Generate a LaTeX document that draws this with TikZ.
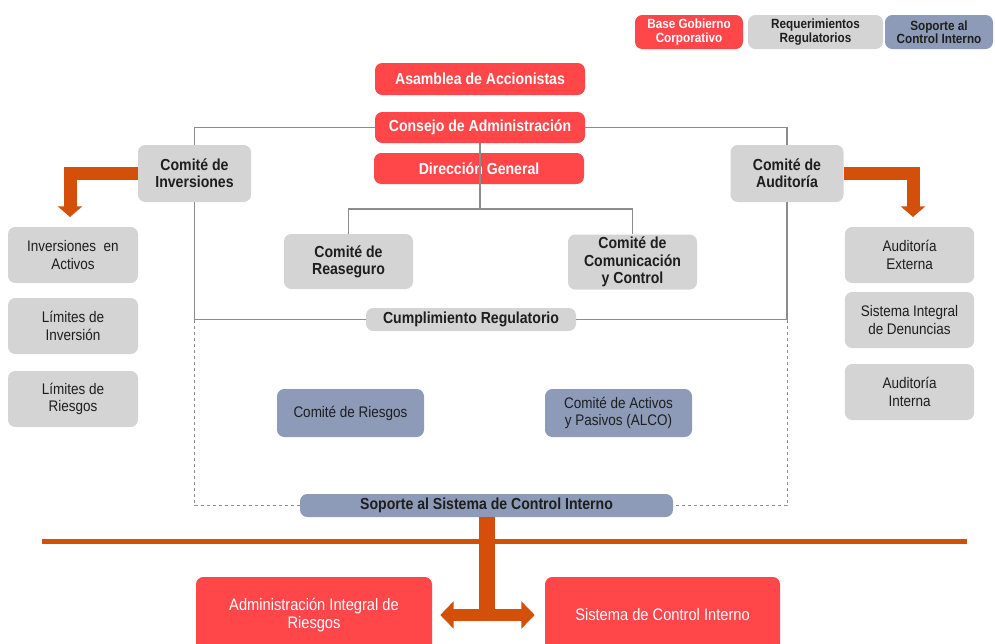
\documentclass[tikz,border=0pt]{standalone}
\usepackage{fontspec}
\setmainfont{Liberation Sans}[FakeStretch=0.88]
\usetikzlibrary{arrows.meta}
\definecolor{govred}{HTML}{FF4649}
\definecolor{reqgrey}{HTML}{D4D4D4}
\definecolor{ctrlblue}{HTML}{8D9BB8}
\definecolor{ctrlorange}{HTML}{D4500A}
\definecolor{linegrey}{HTML}{8C8C8C}
\definecolor{txtdark}{HTML}{1E1E1E}

\begin{document}
\begin{tikzpicture}[x=0.75pt, y=-0.75pt,
  box/.style={rounded corners=5.5pt, align=center, inner sep=1pt},
  redbox/.style={box, fill=govred, text=white},
  greybox/.style={box, fill=reqgrey, text=txtdark},
  bluebox/.style={box, fill=ctrlblue, text=txtdark},
  boldtxt/.style={font=\bfseries\fontsize{12}{13}\selectfont},
  plaintxt/.style={font=\fontsize{11.5}{13}\selectfont},
  legtxt/.style={font=\bfseries\fontsize{10}{10}\selectfont},
  conn/.style={draw=linegrey, line width=1pt},
  dashline/.style={draw=linegrey, line width=0.75pt, dash pattern=on 2.5pt off 2pt},
  elbow/.style={draw=ctrlorange, line width=9.75pt, line join=miter, -{Triangle[width=18pt,length=8pt]}},
  dbl/.style={draw=ctrlorange, line width=9pt, {Triangle[width=20pt,length=10pt]}-{Triangle[width=20pt,length=10pt]}}]

\fill[white] (0,0) rectangle (995,643);
\useasboundingbox (0,0) rectangle (995,643);

\node[redbox, legtxt, minimum width=81pt, minimum height=25.5pt] (legred) at (689,32) {Base Gobierno\\Corporativo};
\node[greybox, legtxt, minimum width=101.25pt, minimum height=25.5pt] (leggrey) at (815.5,32) {Requerimientos\\Regulatorios};
\node[bluebox, legtxt, minimum width=81pt, minimum height=25.5pt] (legblue) at (939,32) {Soporte al\\Control Interno};

\node[redbox, boldtxt, minimum width=157.5pt, minimum height=24pt] (asamblea) at (480,79) {Asamblea de Accionistas};
\node[redbox, boldtxt, minimum width=157.5pt, minimum height=23.25pt] (consejo) at (480,127.5) {Consejo de Administración};
\node[redbox, boldtxt, minimum width=157.5pt, minimum height=23.25pt] (direccion) at (479,168.5) {Dirección General};

\node[greybox, boldtxt, minimum width=84.75pt, minimum height=42.75pt] (inver) at (194.5,173.5) {Comité de\\Inversiones};
\node[greybox, boldtxt, minimum width=84.75pt, minimum height=42.75pt] (audit) at (787,173.5) {Comité de\\Auditoría};
\node[greybox, boldtxt, minimum width=96.75pt, minimum height=41.25pt] (reaseg) at (348.5,261.5) {Comité de\\Reaseguro};
\node[greybox, boldtxt, minimum width=96.75pt, minimum height=41.25pt] (comunic) at (632.5,262) {Comité de\\Comunicación\\y Control};
\node[greybox, boldtxt, minimum width=157.5pt, minimum height=17.25pt] (cumpl) at (471,319.5) {Cumplimiento Regulatorio};

\node[bluebox, plaintxt, minimum width=110.25pt, minimum height=36pt] (riesgos) at (350.5,413) {Comité de Riesgos};
\node[bluebox, plaintxt, minimum width=110.25pt, minimum height=36pt] (alco) at (618.5,413) {Comité de Activos\\y Pasivos (ALCO)};
\node[bluebox, boldtxt, minimum width=279.75pt, minimum height=17.25pt] (soporte) at (486.5,505.5) {Soporte al Sistema de Control Interno};

\foreach \n/\y/\t in {invact/255/{Inversiones\ \ en\\Activos}, liminv/326/{Límites de\\Inversión}, limrie/399/{Límites de\\Riesgos}}
  \node[greybox, plaintxt, minimum width=97.5pt, minimum height=42pt] (\n) at (73,\y) {\t};
\foreach \n/\y/\t in {audext/255/{Auditoría\\Externa}, denun/320/{Sistema Integral\\de Denuncias}, audint/392/{Auditoría\\Interna}}
  \node[greybox, plaintxt, minimum width=97pt, minimum height=42pt] (\n) at (909.5,\y) {\t};

\node[redbox, font=\fontsize{12.5}{13}\selectfont, minimum width=177pt, minimum height=57pt] (admin) at (314,615) {Administración Integral de\\Riesgos};
\node[redbox, font=\fontsize{12.5}{13}\selectfont, minimum width=176.25pt, minimum height=57pt] (sistema) at (662.5,615) {Sistema de Control Interno};

\draw[conn] (consejo.west) -| (inver.north);
\draw[conn] (consejo.east) -| (audit.north);
\coordinate (split) at (480,209);
\draw[conn] (consejo.south) -- (split);
\draw[conn] (reaseg.north) |- (split) -| (comunic.north);
\draw[conn] (inver.south) |- (cumpl.west);
\draw[conn] (audit.south) |- (cumpl.east);
\draw[dashline] (cumpl.west -| inver.south) |- (soporte.west);
\draw[dashline] (cumpl.east -| audit.south) |- (soporte.east);

\coordinate (invtip) at (70,217);
\coordinate (audtip) at (913,217);
\draw[elbow] (inver.west) -| (invtip);
\draw[elbow] (audit.east) -| (audtip);

\coordinate (hl) at (42,541.5);
\coordinate (hr) at (967,541.5);
\draw[ctrlorange, line width=3.75pt] (hl) -- (hr);
\draw[ctrlorange, line width=12pt] (soporte.south) -- (soporte.south |- admin.east);
\draw[dbl, shorten <=6pt, shorten >=7.5pt] (admin.east) -- (sistema.west);
\end{tikzpicture}
\end{document}
